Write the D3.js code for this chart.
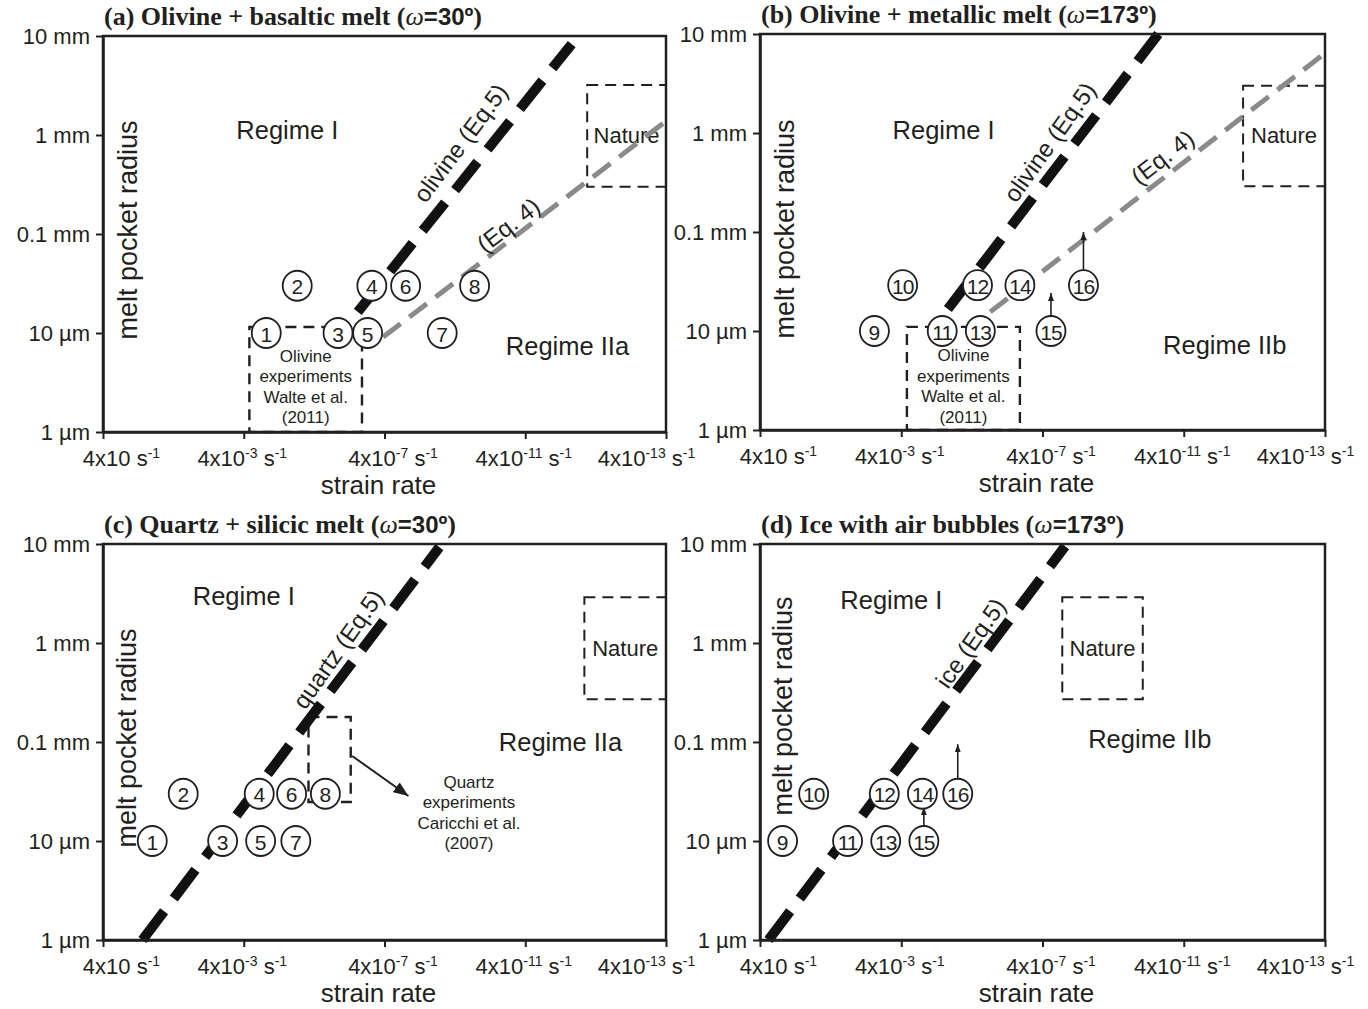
<!DOCTYPE html>
<html>
<head>
<meta charset="utf-8">
<script src="https://cdn.jsdelivr.net/npm/d3@7"></script>
<style>
  body { margin: 0; background: #fff; }
  svg { font-family: "Liberation Sans", Arial, sans-serif; }
</style>
</head>
<body>
<script>
// axis ticks (x axis is drawn with equally spaced ticks, as in the figure)
const rateTicks = [0, 1, 2, 3, 4];
const rateTickExp = ["", "-3", "-7", "-11", "-13"];
const rateTickShift = [18, -2, 8, -2, -20];
const radiusTicks = [0.001, 0.01, 0.1, 1, 10];
const radiusTickLabels = ["1 \u00b5m", "10 \u00b5m", "0.1 mm", "1 mm", "10 mm"];

// circled experiments: number, strain rate position, melt pocket radius (mm)
const idsA = [1, 2, 3, 4, 5, 6, 7, 8];
const rateA = [1.16, 1.38, 1.67, 1.91, 1.88, 2.15, 2.41, 2.64];
const radiusA = [0.01, 0.03, 0.01, 0.03, 0.01, 0.03, 0.01, 0.03];

const idsB = [9, 10, 11, 12, 13, 14, 15, 16];
const rateB = [0.81, 1.01, 1.29, 1.54, 1.56, 1.84, 2.06, 2.29];
const radiusB = [0.01, 0.029, 0.01, 0.029, 0.01, 0.029, 0.01, 0.029];

const idsC = [1, 2, 3, 4, 5, 6, 7, 8];
const rateC = [0.35, 0.57, 0.85, 1.11, 1.12, 1.34, 1.37, 1.58];
const radiusC = [0.01, 0.03, 0.01, 0.03, 0.01, 0.03, 0.01, 0.03];

const idsD = [9, 10, 11, 12, 13, 14, 15, 16];
const rateD = [0.16, 0.38, 0.62, 0.88, 0.89, 1.15, 1.16, 1.40];
const radiusD = [0.01, 0.03, 0.01, 0.03, 0.01, 0.03, 0.01, 0.03];

// Eq.5 (black) and Eq.4 (grey) boundaries: [rate, radius] end points
const eq5A = [[1.81, 0.0163], [3.33, 8.3]];
const eq5B = [[1.33, 0.0167], [2.82, 10]];
const eq5C = [[0.28, 0.001], [2.39, 9.3]];
const eq5D = [[0.06, 0.001], [2.16, 9.5]];
const eq4A = [[1.99, 0.0091], [4.0, 1.38]];
const eq4B = [[1.63, 0.0156], [4.0, 6.4]];

// dashed boxes: [rate0, rate1, radius0, radius1]
const natureA = [3.44, 4.0, 0.3, 3.2];
const natureB = [3.42, 4.0, 0.29, 3.0];
const natureC = [3.42, 4.0, 0.27, 2.9];
const natureD = [2.14, 2.71, 0.27, 2.9];
const olivineExpA = [1.04, 1.84, 0.001, 0.0115];
const olivineExpB = [1.04, 1.84, 0.001, 0.011];
const quartzExpC = [1.46, 1.76, 0.0248, 0.179];

// arrows: [rate0, radius0, rate1, radius1]
const arrowsB = [[2.06, 0.0135, 2.06, 0.0242], [2.29, 0.0413, 2.29, 0.1]];
const arrowsC = [[1.77, 0.0723, 2.17, 0.0285]];
const arrowsD = [[1.16, 0.0135, 1.16, 0.022], [1.40, 0.0433, 1.40, 0.095]];

// text labels: [text, rate, radius]
const regimesA = [["Regime I", 1.31, 1.12], ["Regime IIa", 3.30, 0.0074]];
const regimesB = [["Regime I", 1.30, 1.07], ["Regime IIb", 3.29, 0.0072]];
const regimesC = [["Regime I", 1.0, 2.98], ["Regime IIa", 3.25, 0.1]];
const regimesD = [["Regime I", 0.93, 2.72], ["Regime IIb", 2.76, 0.107]];

const olivineExpText = ["Olivine", "experiments", "Walte et al.", "(2011)"];
const quartzExpText = ["Quartz", "experiments", "Caricchi et al.", "(2007)"];

const ink = "#231f20";
const grey = "#8a8a8a";

const panels = [
  { left: 103, top: 36, right: 666, bottom: 432, title: "(a) Olivine + basaltic melt (", angle: "=30\u00ba",
    ids: idsA, rate: rateA, radius: radiusA, eq5: eq5A, eq5Text: "olivine (Eq.5)", eq5At: [2.54, 0.83],
    eq4: eq4A, eq4At: [2.88, 0.123], nature: natureA, exp: olivineExpA, expText: olivineExpText, expAt: [1.44, 0.0058],
    arrows: [], regimes: regimesA, yTitle: [25, 194] },
  { left: 760, top: 34, right: 1325, bottom: 430, title: "(b) Olivine + metallic melt (", angle: "=173\u00ba",
    ids: idsB, rate: rateB, radius: radiusB, eq5: eq5B, eq5Text: "olivine (Eq.5)", eq5At: [2.05, 0.81],
    eq4: eq4B, eq4At: [2.85, 0.57], nature: natureB, exp: olivineExpB, expText: olivineExpText, expAt: [1.44, 0.0056],
    arrows: arrowsB, arrowSize: "small", regimes: regimesB, yTitle: [25, 195] },
  { left: 103, top: 544, right: 666, bottom: 940, title: "(c) Quartz + silicic melt (", angle: "=30\u00ba",
    ids: idsC, rate: rateC, radius: radiusC, eq5: eq5C, eq5Text: "quartz (Eq.5)", eq5At: [1.67, 0.87],
    nature: natureC, exp: quartzExpC, expText: quartzExpText, expAt: [2.6, 0.0394],
    arrows: arrowsC, arrowSize: "big", regimes: regimesC, yTitle: [24, 194] },
  { left: 760, top: 544, right: 1325, bottom: 940, title: "(d) Ice with air bubbles (", angle: "=173\u00ba",
    ids: idsD, rate: rateD, radius: radiusD, eq5: eq5D, eq5Text: "ice (Eq.5)", eq5At: [1.49, 1.0],
    nature: natureD, arrows: arrowsD, arrowSize: "small", regimes: regimesD, yTitle: [23, 162] }
];

const svg = d3.select("body").append("svg")
  .attr("width", 1368)
  .attr("height", 1009);

const defs = svg.append("defs");
[["small", 8, 6], ["big", 15, 12]].forEach(([name, len, wid]) => {
  defs.append("marker")
    .attr("id", "arrow-" + name)
    .attr("viewBox", `0 0 ${len} ${wid}`)
    .attr("refX", len)
    .attr("refY", wid / 2)
    .attr("markerUnits", "userSpaceOnUse")
    .attr("markerWidth", len)
    .attr("markerHeight", wid)
    .attr("orient", "auto")
    .append("path")
    .attr("d", `M0,0L${len},${wid / 2}L0,${wid}Z`)
    .attr("fill", ink);
});

panels.forEach(p => drawPanel(p));

function drawPanel(p) {
  const x = d3.scaleLinear().domain([0, 4]).range([p.left, p.right]);
  const y = d3.scaleLog().domain([0.001, 10]).range([p.bottom, p.top]);
  const g = svg.append("g");

  // dashed boxes
  const box = (b, w) => g.append("rect")
    .attr("x", x(b[0])).attr("y", y(b[3]))
    .attr("width", x(b[1]) - x(b[0])).attr("height", y(b[2]) - y(b[3]))
    .attr("fill", "none").attr("stroke", ink)
    .attr("stroke-width", w).attr("stroke-dasharray", "11,7");

  box(p.nature, 2);
  g.append("text")
    .attr("x", x((p.nature[0] + p.nature[1]) / 2))
    .attr("y", y(Math.sqrt(p.nature[2] * p.nature[3])))
    .attr("text-anchor", "middle").attr("dominant-baseline", "central")
    .style("font-size", "22px").attr("fill", ink)
    .text("Nature");

  if (p.exp) {
    box(p.exp, 2.4);
    const t = g.append("text")
      .attr("text-anchor", "middle")
      .style("font-size", "17px").attr("fill", ink);
    p.expText.forEach((s, i) => {
      t.append("tspan")
        .attr("x", x(p.expAt[0]))
        .attr("y", y(p.expAt[1]) + i * 20.5)
        .attr("dominant-baseline", "central")
        .text(s);
    });
  }

  const line = d3.line().x(d => x(d[0])).y(d => y(d[1]));

  // Eq. 4 boundary (grey)
  if (p.eq4) {
    g.append("path")
      .datum(p.eq4)
      .attr("d", line)
      .attr("fill", "none")
      .attr("stroke", grey)
      .attr("stroke-width", 5)
      .attr("stroke-dasharray", "22,11");
    const ang = Math.atan2(y(p.eq4[1][1]) - y(p.eq4[0][1]), x(p.eq4[1][0]) - x(p.eq4[0][0])) * 180 / Math.PI;
    g.append("text")
      .attr("transform", `translate(${x(p.eq4At[0])},${y(p.eq4At[1])}) rotate(${ang})`)
      .attr("text-anchor", "middle").attr("dominant-baseline", "central")
      .style("font-size", "24px").attr("fill", ink)
      .text("(Eq. 4)");
  }

  // Eq. 5 boundary (black)
  g.append("path")
    .datum(p.eq5)
    .attr("d", line)
    .attr("fill", "none")
    .attr("stroke", "#111")
    .attr("stroke-width", 10)
    .attr("stroke-dasharray", "36,16");
  const ang5 = Math.atan2(y(p.eq5[1][1]) - y(p.eq5[0][1]), x(p.eq5[1][0]) - x(p.eq5[0][0])) * 180 / Math.PI;
  g.append("text")
    .attr("transform", `translate(${x(p.eq5At[0])},${y(p.eq5At[1])}) rotate(${ang5 - 2})`)
    .attr("text-anchor", "middle").attr("dominant-baseline", "central")
    .style("font-size", "24px").attr("fill", ink)
    .text(p.eq5Text);

  // arrows
  g.selectAll(".arrow")
    .data(p.arrows)
    .join("line")
    .attr("x1", d => x(d[0])).attr("y1", d => y(d[1]))
    .attr("x2", d => x(d[2])).attr("y2", d => y(d[3]))
    .attr("stroke", ink)
    .attr("stroke-width", p.arrowSize === "big" ? 2 : 1.6)
    .attr("marker-end", `url(#arrow-${p.arrowSize})`);

  // circled experiment numbers
  const pts = g.selectAll(".pt")
    .data(p.ids.map((id, i) => ({ id: id, r: p.rate[i], v: p.radius[i] })))
    .join("g")
    .attr("transform", d => `translate(${x(d.r)},${y(d.v)})`);
  pts.append("ellipse")
    .attr("rx", 14.5).attr("ry", 15)
    .attr("fill", "#fff").attr("stroke", ink).attr("stroke-width", 1.8);
  pts.append("text")
    .attr("text-anchor", "middle").attr("dominant-baseline", "central")
    .attr("y", 1)
    .style("font-size", "21px").attr("fill", ink)
    .style("letter-spacing", d => d.id > 9 ? "-1px" : null)
    .text(d => d.id);

  // regime labels
  g.selectAll(".regime")
    .data(p.regimes)
    .join("text")
    .attr("x", d => x(d[1])).attr("y", d => y(d[2]))
    .attr("text-anchor", "middle").attr("dominant-baseline", "central")
    .style("font-size", "25.5px").attr("fill", ink)
    .text(d => d[0]);

  // frame
  g.append("rect")
    .attr("x", p.left).attr("y", p.top)
    .attr("width", p.right - p.left).attr("height", p.bottom - p.top)
    .attr("fill", "none").attr("stroke", ink).attr("stroke-width", 2.5);

  // y axis
  const ya = g.append("g")
    .attr("transform", `translate(${p.left},0)`)
    .call(d3.axisLeft(y).tickValues(radiusTicks).tickSize(7).tickSizeOuter(0).tickPadding(6)
      .tickFormat((d, i) => radiusTickLabels[i]));
  ya.select(".domain").attr("stroke", ink).attr("stroke-width", 2.5);
  ya.selectAll(".tick line").attr("stroke", ink).attr("stroke-width", 2);
  ya.selectAll(".tick text").style("font-size", "22px").attr("fill", ink)
    .style("font-family", "'Liberation Sans', Arial, sans-serif");

  // x axis
  const xa = g.append("g")
    .attr("transform", `translate(0,${p.bottom})`)
    .call(d3.axisBottom(x).tickValues(rateTicks).tickSize(7).tickSizeOuter(0).tickFormat(""));
  xa.select(".domain").attr("stroke", ink).attr("stroke-width", 2.5);
  xa.selectAll(".tick line").attr("stroke", ink).attr("stroke-width", 2);
  xa.selectAll(".tick").each(function (d, i) {
    const t = d3.select(this).append("text")
      .attr("x", rateTickShift[i])
      .attr("y", 34)
      .attr("text-anchor", "middle")
      .attr("fill", ink)
      .style("font-size", "22px")
      .style("font-family", "'Liberation Sans', Arial, sans-serif");
    t.append("tspan").text("4x10");
    if (rateTickExp[i]) {
      t.append("tspan").attr("dy", -8).style("font-size", "14px").text(rateTickExp[i]);
      t.append("tspan").attr("dy", 8).text(" s");
    } else {
      t.append("tspan").text(" s");
    }
    t.append("tspan").attr("dy", -8).style("font-size", "14px").text("-1");
  });

  // axis titles
  g.append("text")
    .attr("x", (p.left + p.right) / 2 - 6)
    .attr("y", p.bottom + 62)
    .attr("text-anchor", "middle")
    .style("font-size", "26px").attr("fill", ink)
    .text("strain rate");
  g.append("text")
    .attr("transform", `translate(${p.left + p.yTitle[0]},${p.top + p.yTitle[1]}) rotate(-90)`)
    .attr("text-anchor", "middle").attr("dominant-baseline", "central")
    .style("font-size", "27px").attr("fill", ink)
    .text("melt pocket radius");

  // panel title
  const tt = g.append("text")
    .attr("x", p.left + 1)
    .attr("y", p.top - 11)
    .attr("fill", ink)
    .style("font-size", "26px")
    .style("font-weight", "bold")
    .style("font-family", "'Liberation Serif', 'Times New Roman', serif");
  tt.append("tspan").text(p.title);
  tt.append("tspan").style("font-style", "italic").style("font-weight", "normal").text("\u03c9");
  tt.append("tspan").style("font-family", "'Liberation Sans', Arial, sans-serif").style("font-size", "24px").text(p.angle);
  tt.append("tspan").text(")");
}
</script>
</body>
</html>
